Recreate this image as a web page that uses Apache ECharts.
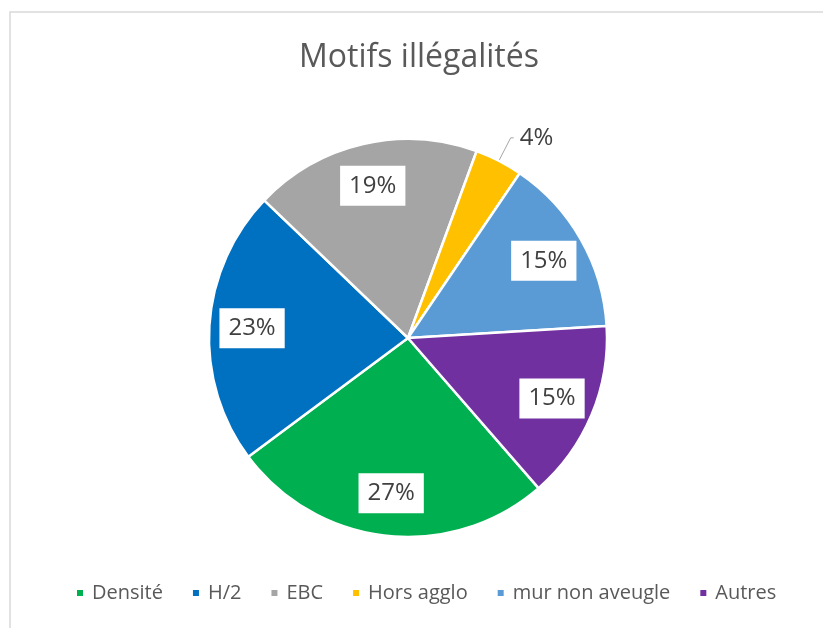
<!DOCTYPE html>
<html>
<head>
<meta charset="utf-8">
<script src="https://cdn.jsdelivr.net/npm/echarts@6/dist/echarts.min.js"></script>
<style>
  html, body { margin: 0; padding: 0; background: #fff; }
  #chart { width: 823px; height: 628px; }
</style>
</head>
<body>
<div id="chart"></div>
<script>
const categories = ['Densité', 'H/2', 'EBC', 'Hors agglo', 'mur non aveugle', 'Autres'];
const values = [27, 23, 19, 4, 15, 15];
const colors = ['#00B050', '#0070C0', '#A5A5A5', '#FFC000', '#5B9BD5', '#7030A0'];
const outsideLabel = ['Hors agglo'];

const chart = echarts.init(document.getElementById('chart'));
const font = '"Open Sans", "Noto Sans", sans-serif';
const center = [408, 338];
const radius = 199;
const startAngle = -49;

const pieData = categories.map((name, i) => ({
    name: name,
    value: values[i],
    itemStyle: { color: colors[i] },
    label: { show: outsideLabel.includes(name) },
    labelLine: { show: outsideLabel.includes(name) }
}));

// transparent ring only used to place the boxed labels further out than mid-radius
const labelData = categories.map((name, i) => ({
    name: name,
    value: values[i],
    label: { show: !outsideLabel.includes(name) }
}));

const option = {
    animation: false,
    color: colors,
    title: {
        text: 'Motifs illégalités',
        left: 414,
        top: 37,
        textAlign: 'center',
        textStyle: { fontFamily: font, fontSize: 32, fontWeight: 'normal', color: '#595959' }
    },
    legend: {
        data: categories,
        bottom: 20,
        left: 70,
        icon: 'rect',
        itemWidth: 8,
        itemHeight: 8,
        itemGap: 28,
        textStyle: { fontFamily: font, fontSize: 20, color: '#595959', padding: [0, 0, 0, 3] }
    },
    graphic: [{
        type: 'rect',
        shape: { x: 10, y: 12, width: 900, height: 700 },
        style: { fill: 'none', stroke: '#D9D9D9', lineWidth: 1.5 },
        silent: true,
        z: -1
    }],
    series: [
        {
            type: 'pie',
            center: center,
            radius: radius,
            startAngle: startAngle,
            clockwise: true,
            itemStyle: { borderColor: '#fff', borderWidth: 2.5 },
            label: {
                position: 'outside',
                formatter: '{c}%',
                fontFamily: font,
                fontSize: 24,
                color: '#404040',
                distanceToLabelLine: 6
            },
            labelLine: { length: 26, length2: 3, lineStyle: { color: '#A6A6A6', width: 1 } },
            emphasis: { disabled: true },
            data: pieData
        },
        {
            type: 'pie',
            center: center,
            radius: [radius * 0.54, radius],
            startAngle: startAngle,
            clockwise: true,
            silent: true,
            itemStyle: { color: 'rgba(0,0,0,0)' },
            label: {
                position: 'inside',
                formatter: '{c}%',
                fontFamily: font,
                fontSize: 24,
                color: '#404040',
                backgroundColor: '#fff',
                padding: [8, 9]
            },
            labelLine: { show: false },
            emphasis: { disabled: true },
            data: labelData
        }
    ]
};
chart.setOption(option);
window.addEventListener('resize', () => chart.resize());
</script>
</body>
</html>
